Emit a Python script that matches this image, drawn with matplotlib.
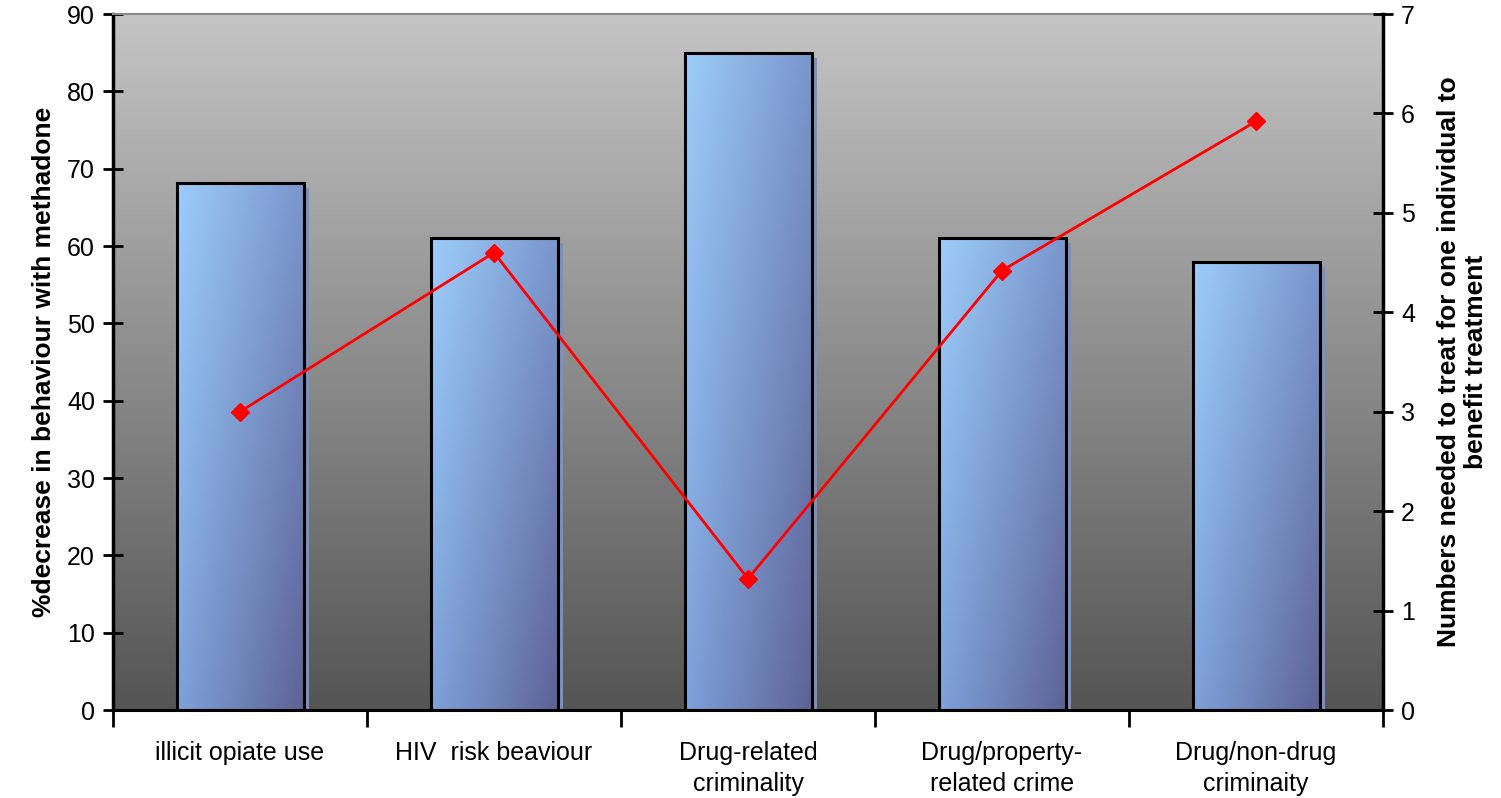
import numpy as np
import matplotlib
matplotlib.use("Agg")
import matplotlib.pyplot as plt
import matplotlib.transforms as mtransforms
from matplotlib.patches import Rectangle

categories = ["illicit opiate use", "HIV  risk beaviour", "Drug-related\ncriminality",
              "Drug/property-\nrelated crime", "Drug/non-drug\ncriminaity"]
pct_decrease = [68.2, 61.0, 84.9, 61.0, 57.9]
nnt = [3.0, 4.6, 1.32, 4.42, 5.92]

plt.rcParams['font.family'] = ['Liberation Sans', 'DejaVu Sans']

fig = plt.figure(figsize=(15.01, 7.98), dpi=100)
ax = fig.add_axes([113 / 1501, 88 / 798, 1270 / 1501, 696 / 798])
ax.set_xlim(-0.5, len(categories) - 0.5)
ax.set_ylim(0, 90)

# grey background gradient, light at the top
bg = np.linspace(0.33, 0.77, 256).reshape(-1, 1)
ax.imshow(np.dstack([bg, bg, bg]), extent=(0, 1, 0, 1), transform=ax.transAxes,
          aspect='auto', origin='lower', zorder=0)

# bar fill: light blue at top-left, darker slate at bottom-right
tl = np.array([157, 205, 250]) / 255
tr = np.array([122, 150, 205]) / 255
bl = np.array([125, 162, 218]) / 255
br = np.array([94, 98, 150]) / 255
u = np.linspace(0, 1, 64)[None, :, None]
v = np.linspace(0, 1, 128)[:, None, None]
grad = (1 - v) * ((1 - u) * bl + u * br) + v * ((1 - u) * tl + u * tr)

width = 0.5
shadow_tr = mtransforms.offset_copy(ax.transData, fig=fig, x=5, y=-5, units='dots')
for i, h in enumerate(pct_decrease):
    x0 = i - width / 2
    ax.add_patch(Rectangle((x0, 0), width, h, transform=shadow_tr,
                           facecolor='#7a8fc6', edgecolor='none', zorder=1, clip_on=True))
    ax.imshow(grad, extent=(x0, x0 + width, 0, h), aspect='auto', origin='lower', zorder=2)
    ax.add_patch(Rectangle((x0, 0), width, h, facecolor='none', edgecolor='black',
                           linewidth=2.2, zorder=3))
ax.set_xlim(-0.5, len(categories) - 0.5)
ax.set_ylim(0, 90)

ax.set_yticks(range(0, 91, 10))
ax.tick_params(axis='y', direction='inout', length=14, width=2, labelsize=18, pad=6)
ax.set_xticks(np.arange(-0.5, len(categories), 1.0))
ax.set_xticklabels([])
ax.tick_params(axis='x', direction='out', length=12, width=2)
ax.set_xticks(range(len(categories)), minor=True)
ax.set_xticklabels(categories, minor=True, fontsize=18, linespacing=1.4)
ax.tick_params(axis='x', which='minor', length=0, pad=22)

ax.spines['left'].set_linewidth(2.5)
ax.spines['bottom'].set_linewidth(2.2)
ax.spines['top'].set_color('#8a8a8a')
ax.spines['top'].set_linewidth(1.5)
ax.spines['right'].set_visible(False)
ax.set_ylabel("%decrease in behaviour with methadone", fontsize=19, fontweight='bold', labelpad=8)

ax2 = ax.twinx()
ax2.set_ylim(0, 7)
ax2.plot(range(len(nnt)), nnt, color='#ff0000', linewidth=2, marker='D', markersize=9,
         zorder=5)
ax2.set_yticks(range(0, 8))
ax2.tick_params(axis='y', direction='inout', length=14, width=2, labelsize=18, pad=6)
ax2.spines['right'].set_linewidth(2.5)
for s in ['left', 'top', 'bottom']:
    ax2.spines[s].set_visible(False)
ax2.set_ylabel("Numbers needed to treat for one individual to\nbenefit treatment",
               fontsize=19, fontweight='bold', labelpad=16, linespacing=1.15)

fig.savefig("out.png", dpi=100, facecolor='white')
